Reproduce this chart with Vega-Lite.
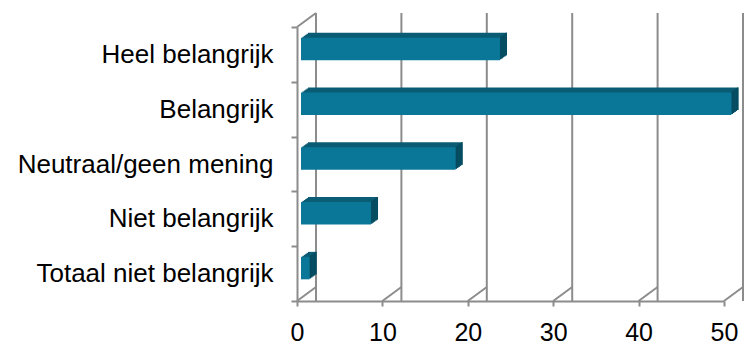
{
  "$schema": "https://vega.github.io/schema/vega-lite/v6.json",
  "width": 427,
  "height": 274,
  "autosize": {"type": "none"},
  "padding": {"left": 297, "top": 27, "right": 20, "bottom": 43},
  "config": {
    "view": {"stroke": null},
    "font": "Liberation Sans",
    "axisX": {
      "grid": false,
      "tickCount": 5,
      "domainColor": "#8c8c8c",
      "domainWidth": 2,
      "tickColor": "#8c8c8c",
      "tickWidth": 2,
      "tickSize": 5,
      "labelFontSize": 25,
      "labelColor": "#000000",
      "labelPadding": 14,
      "labelFlush": false
    },
    "axisY": {
      "grid": false,
      "domainColor": "#8c8c8c",
      "domainWidth": 2,
      "tickColor": "#8c8c8c",
      "tickWidth": 2,
      "tickSize": 6,
      "tickBand": "extent",
      "labelFontSize": 26,
      "labelColor": "#000000",
      "labelPadding": 18,
      "labelLimit": 400
    }
  },
  "datasets": {
    "answers": [
      {"antwoord": "Heel belangrijk", "pct": 23.3},
      {"antwoord": "Belangrijk", "pct": 50.4},
      {"antwoord": "Neutraal/geen mening", "pct": 18.1},
      {"antwoord": "Niet belangrijk", "pct": 8.2},
      {"antwoord": "Totaal niet belangrijk", "pct": 1.0}
    ],
    "grid": [{"v": 0}, {"v": 10}, {"v": 20}, {"v": 30}, {"v": 40}, {"v": 50}]
  },
  "resolve": {"scale": {"y": "independent"}},
  "layer": [
    {
      "data": {"name": "grid"},
      "encoding": {
        "x": {"field": "v", "type": "quantitative", "title": null, "scale": {"domain": [0, 50], "nice": false}}
      },
      "layer": [
        {
          "mark": {"type": "rule", "color": "#8c8c8c", "strokeWidth": 2, "xOffset": 19, "x2Offset": 19, "yOffset": -14, "y2Offset": -14},
          "encoding": {}
        },
        {
          "mark": {"type": "rule", "color": "#8c8c8c", "strokeWidth": 2, "x2Offset": 19, "y2Offset": -14},
          "encoding": {
            "x2": {"field": "v"},
            "y": {"datum": 0, "type": "quantitative", "scale": {"domain": [0, 1]}, "axis": null},
            "y2": {"datum": 0}
          }
        },
        {
          "transform": [{"filter": "datum.v == 0"}],
          "mark": {"type": "rule", "color": "#8c8c8c", "strokeWidth": 2, "x2Offset": 19, "y2Offset": -14},
          "encoding": {
            "x2": {"field": "v"},
            "y": {"datum": 1, "type": "quantitative", "scale": {"domain": [0, 1]}, "axis": null},
            "y2": {"datum": 1}
          }
        }
      ]
    },
    {
      "data": {"name": "answers"},
      "encoding": {
        "x": {"field": "pct", "type": "quantitative", "title": null, "scale": {"domain": [0, 50], "nice": false}},
        "y": {"field": "antwoord", "type": "nominal", "sort": null, "title": null, "scale": {"paddingInner": 0, "paddingOuter": 0}}
      },
      "layer": [
        {"mark": {"type": "bar", "color": "#0b5d75", "height": {"band": 0.41}, "xOffset": 11, "x2Offset": 11, "yOffset": -10.5, "y2Offset": -10.5}},
        {"mark": {"type": "bar", "color": "#0b5d75", "height": {"band": 0.41}, "xOffset": 9.6, "x2Offset": 9.6, "yOffset": -9.5, "y2Offset": -9.5}},
        {"mark": {"type": "bar", "color": "#0b5d75", "height": {"band": 0.41}, "xOffset": 8.2, "x2Offset": 8.2, "yOffset": -8.5, "y2Offset": -8.5}},
        {"mark": {"type": "bar", "color": "#0b5d75", "height": {"band": 0.41}, "xOffset": 6.8, "x2Offset": 6.8, "yOffset": -7.5, "y2Offset": -7.5}},
        {"mark": {"type": "bar", "color": "#0b5d75", "height": {"band": 0.41}, "xOffset": 5.4, "x2Offset": 5.4, "yOffset": -6.5, "y2Offset": -6.5}},
        {"mark": {"type": "bar", "color": "#064b5f", "height": {"band": 0.41}, "xOffset": 4, "x2Offset": 5.4, "yOffset": -6.5, "y2Offset": -6.5}, "encoding": {"x2": {"field": "pct"}}},
        {"mark": {"type": "bar", "color": "#064b5f", "height": {"band": 0.41}, "xOffset": 5.4, "x2Offset": 6.8, "yOffset": -7.5, "y2Offset": -7.5}, "encoding": {"x2": {"field": "pct"}}},
        {"mark": {"type": "bar", "color": "#064b5f", "height": {"band": 0.41}, "xOffset": 6.8, "x2Offset": 8.2, "yOffset": -8.5, "y2Offset": -8.5}, "encoding": {"x2": {"field": "pct"}}},
        {"mark": {"type": "bar", "color": "#064b5f", "height": {"band": 0.41}, "xOffset": 8.2, "x2Offset": 9.6, "yOffset": -9.5, "y2Offset": -9.5}, "encoding": {"x2": {"field": "pct"}}},
        {"mark": {"type": "bar", "color": "#064b5f", "height": {"band": 0.41}, "xOffset": 9.6, "x2Offset": 11, "yOffset": -10.5, "y2Offset": -10.5}, "encoding": {"x2": {"field": "pct"}}},
        {"mark": {"type": "bar", "color": "#0b7798", "height": {"band": 0.41}, "xOffset": 4, "x2Offset": 4, "yOffset": -5.5, "y2Offset": -5.5}}
      ]
    }
  ]
}
